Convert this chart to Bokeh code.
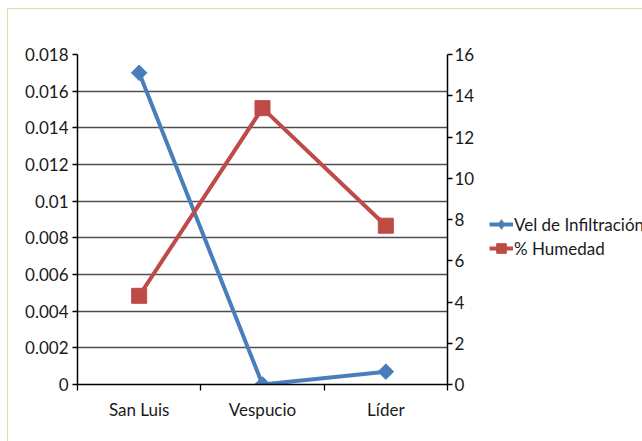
import numpy as np
from bokeh.plotting import figure
from bokeh.layouts import row
from bokeh.models import (Range1d, LinearAxis, FixedTicker, CustomJSTickFormatter,
                          Legend, LegendItem)
from bokeh.embed import file_html
from bokeh.resources import INLINE

categories = ["San Luis", "Vespucio", "Líder"]
vel_infiltracion = [0.017, 0.0, 0.0007]
humedad = [4.3, 13.4, 7.7]
left_ticks = [0, 0.002, 0.004, 0.006, 0.008, 0.01, 0.012, 0.014, 0.016, 0.018]
right_ticks = [0, 2, 4, 6, 8, 10, 12, 14, 16]
series_names = ["Vel de Infiltración", "% Humedad"]

FONT = "Lato"
FS = "17px"
TXT = "#1a1a1a"
BLUE = "#4A7EBB"
RED = "#BE4B48"

x = [i + 0.5 for i in range(len(categories))]

H = 432
p = figure(width=479, height=H, output_backend="svg", toolbar_location=None,
           x_range=Range1d(0, len(categories)), y_range=Range1d(0, 0.018),
           min_border_left=69, min_border_right=40, min_border_top=45, min_border_bottom=57,
           background_fill_color="white", border_fill_color="white")
p.outline_line_color = None
p.extra_y_ranges = {"right": Range1d(0, 16)}

# x axis
xa = p.xaxis[0]
xa.ticker = FixedTicker(ticks=x, minor_ticks=list(range(len(categories) + 1)))
xa.major_label_overrides = {xi: c for xi, c in zip(x, categories)}
xa.major_tick_line_color = None
xa.major_tick_out = 0
xa.minor_tick_out = 6
xa.minor_tick_in = 0
xa.minor_tick_line_color = "black"
xa.minor_tick_line_width = 1.3
xa.axis_line_color = "black"
xa.axis_line_width = 1.5
xa.major_label_standoff = 8
xa.major_label_text_font = FONT
xa.major_label_text_font_size = FS
xa.major_label_text_color = TXT

# left axis
ya = p.yaxis[0]
ya.ticker = FixedTicker(ticks=left_ticks, minor_ticks=[])
ya.formatter = CustomJSTickFormatter(code="""
    let s = tick.toFixed(3);
    s = s.replace(/0+$/, '').replace(/\\.$/, '');
    return s;
""")
ya.major_tick_out = 5
ya.major_tick_in = 0
ya.minor_tick_line_color = None
ya.axis_line_color = "black"
ya.axis_line_width = 1.5
ya.major_tick_line_width = 1.3
ya.major_label_standoff = 4
ya.major_label_text_font = FONT
ya.major_label_text_font_size = FS
ya.major_label_text_color = TXT

# right axis
ra = LinearAxis(y_range_name="right", ticker=FixedTicker(ticks=right_ticks, minor_ticks=[]))
ra.major_tick_out = 5
ra.major_tick_in = 0
ra.minor_tick_line_color = None
ra.axis_line_color = "black"
ra.axis_line_width = 1.5
ra.major_tick_line_width = 1.3
ra.major_label_standoff = 2
ra.major_label_text_font = FONT
ra.major_label_text_font_size = FS
ra.major_label_text_color = TXT
p.add_layout(ra, "right")

p.xgrid.grid_line_color = None
p.ygrid.ticker = FixedTicker(ticks=left_ticks, minor_ticks=[])
p.ygrid.grid_line_color = "#4f4f4f"
p.ygrid.grid_line_width = 1.4

p.line(x, vel_infiltracion, line_color=BLUE, line_width=4)
p.scatter(x, vel_infiltracion, marker="square", angle=np.pi / 4, size=11,
          fill_color=BLUE, line_color=BLUE)
p.line(x, humedad, line_color=RED, line_width=4, y_range_name="right")
p.scatter(x, humedad, marker="square", size=15, fill_color=RED, line_color=RED,
          y_range_name="right")

# legend panel (separate figure so the legend may run to the page edge);
# its series lie outside its visible range, only the legend shows
q = figure(width=155, height=H, output_backend="svg", toolbar_location=None,
           x_range=Range1d(0, 1), y_range=Range1d(100, 101),
           min_border=0, background_fill_color="white", border_fill_color="white")
q.axis.visible = False
q.grid.visible = False
q.outline_line_color = None
lg1 = q.line(x, vel_infiltracion, line_color=BLUE, line_width=4)
sg1 = q.scatter(x, vel_infiltracion, marker="diamond", size=11,
                fill_color=BLUE, line_color=BLUE)
lg2 = q.line(x, humedad, line_color=RED, line_width=4)
sg2 = q.scatter(x, humedad, marker="square", size=15, fill_color=RED, line_color=RED)

legend = Legend(items=[LegendItem(label=series_names[0], renderers=[lg1, sg1]),
                       LegendItem(label=series_names[1], renderers=[lg2, sg2])],
                location=(2, 124), padding=0, margin=0, spacing=-2,
                glyph_width=24, glyph_height=24, label_standoff=1, label_height=20,
                border_line_color=None, background_fill_alpha=0,
                label_text_font=FONT, label_text_font_size=FS, label_text_color=TXT)
q.add_layout(legend, "center")

layout = row(p, q, spacing=0,
             styles={"margin-left": "7px", "margin-top": "8px",
                     "border-left": "1px solid #d6e3a2", "border-top": "1px solid #d6e3a2"})

open("out.html", "w").write(file_html(layout, INLINE))
